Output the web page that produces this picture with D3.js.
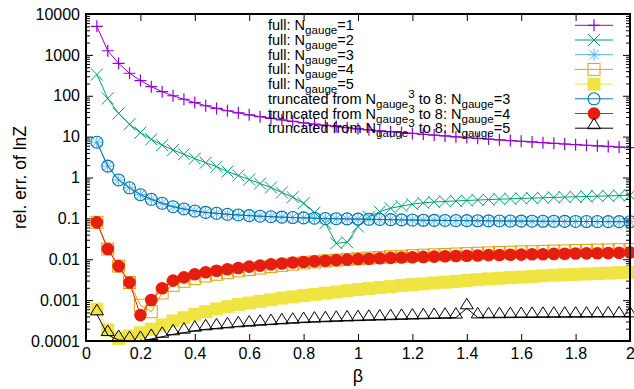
<!DOCTYPE html>
<html><head><meta charset="utf-8">
<script src="https://cdn.jsdelivr.net/npm/d3@7"></script>
<style>body{margin:0;background:#fff}svg{display:block}text{font-family:"Liberation Sans",Arial,sans-serif}</style>
</head><body><svg id="c" width="634" height="389"></svg>
<script>
const beta = [0.04,0.08,0.12,0.16,0.20,0.24,0.28,0.32,0.36,0.40,0.44,0.48,0.52,0.56,0.60,0.64,0.68,0.72,0.76,0.80,0.84,0.88,0.92,0.96,1.00,1.04,1.08,1.12,1.16,1.20,1.24,1.28,1.32,1.36,1.40,1.44,1.48,1.52,1.56,1.60,1.64,1.68,1.72,1.76,1.80,1.84,1.88,1.92,1.96,2.00];
const full1 = [5000,1260,620,355,235,167,126,100,82,68,57,49,43,38.2,34.2,30.8,28.0,25.6,23.6,21.8,20.2,18.8,17.6,16.5,15.5,14.7,13.9,13.2,12.6,12.0,11.4,10.9,10.4,9.9,9.5,9.1,8.7,8.35,8.0,7.7,7.4,7.1,6.85,6.6,6.35,6.15,5.95,5.75,5.55,5.4];
const full2 = [330,86,37,20,12.5,8.6,6.2,4.7,3.7,2.9,2.3,1.84,1.40,1.12,0.89,0.71,0.57,0.43,0.33,0.235,0.138,0.076,0.0245,0.026,0.063,0.11,0.146,0.177,0.20,0.222,0.24,0.252,0.26,0.267,0.274,0.281,0.288,0.295,0.301,0.307,0.313,0.319,0.325,0.331,0.337,0.343,0.349,0.355,0.361,0.367];
const full3 = [7.3,1.9,0.87,0.56,0.38,0.293,0.234,0.193,0.17,0.151,0.14,0.133,0.126,0.121,0.117,0.113,0.11,0.107,0.105,0.103,0.101,0.099,0.098,0.097,0.096,0.095,0.094,0.093,0.092,0.091,0.090,0.0895,0.089,0.0885,0.088,0.0875,0.087,0.0865,0.086,0.0857,0.0853,0.085,0.0847,0.0844,0.0841,0.0838,0.0836,0.0834,0.0832,0.083];
const full4 = [0.080,0.0178,0.0068,0.0027,0.00075,0.00052,0.0015,0.0023,0.0029,0.0034,0.0039,0.0043,0.0047,0.0052,0.0056,0.0061,0.0066,0.0071,0.0076,0.0081,0.0086,0.0091,0.0095,0.0099,0.0103,0.0107,0.0111,0.0115,0.0118,0.0122,0.0125,0.0128,0.0131,0.0134,0.0137,0.014,0.0143,0.0146,0.0148,0.0151,0.0153,0.0156,0.0158,0.016,0.0163,0.0165,0.0167,0.0169,0.0171,0.0173];
const full5 = [0.0006,0.000186,0.000116,0.000133,0.00016,0.000193,0.000246,0.00031,0.00037,0.00045,0.00052,0.00061,0.00069,0.000776,0.000851,0.000933,0.00102,0.00112,0.0012,0.00129,0.00138,0.00148,0.00158,0.0017,0.00182,0.00191,0.00204,0.00214,0.00229,0.0024,0.00251,0.00263,0.00275,0.00288,0.00302,0.00316,0.00331,0.00343,0.00355,0.00367,0.0038,0.00394,0.00407,0.00417,0.00427,0.00437,0.00447,0.00457,0.00468,0.00479];
const trunc3 = [7.3,1.9,0.87,0.56,0.38,0.293,0.234,0.193,0.17,0.151,0.14,0.133,0.126,0.121,0.117,0.113,0.11,0.107,0.105,0.103,0.101,0.099,0.098,0.097,0.096,0.095,0.094,0.093,0.092,0.091,0.090,0.0895,0.089,0.0885,0.088,0.0875,0.087,0.0865,0.086,0.0857,0.0853,0.085,0.0847,0.0844,0.0841,0.0838,0.0836,0.0834,0.0832,0.083];
const trunc4 = [0.080,0.0178,0.0068,0.0027,0.00043,0.00101,0.00195,0.0030,0.0036,0.0043,0.0048,0.00525,0.0057,0.0061,0.0066,0.0070,0.0075,0.0079,0.0083,0.0086,0.0089,0.0092,0.0095,0.0098,0.0101,0.0103,0.0106,0.0108,0.011,0.0112,0.0114,0.0116,0.0118,0.012,0.0122,0.0124,0.0126,0.0127,0.0129,0.013,0.0132,0.0133,0.0135,0.0136,0.0138,0.0139,0.014,0.0142,0.0143,0.0145];
const trunc5 = [0.00045,0.00014,0.000106,0.0001,0.0001,0.000112,0.000127,0.000146,0.00016,0.000179,0.000193,0.000204,0.000216,0.000229,0.000238,0.00025,0.000259,0.00027,0.00028,0.00029,0.000298,0.000305,0.000312,0.000318,0.000324,0.00033,0.000336,0.000342,0.000348,0.000354,0.00036,0.000365,0.00037,0.000374,0.00063,0.000378,0.00038,0.000382,0.000384,0.000386,0.000388,0.00039,0.000392,0.000393,0.000394,0.000395,0.000396,0.000397,0.000398,0.0004];

const seriesLabels = ["full: N_{gauge}=1","full: N_{gauge}=2","full: N_{gauge}=3","full: N_{gauge}=4","full: N_{gauge}=5",
  "truncated from N_{gauge}^3 to 8: N_{gauge}=3","truncated from N_{gauge}^3 to 8: N_{gauge}=4","truncated from N_{gauge}^3 to 8: N_{gauge}=5"];
const seriesColors = ["#9400d3","#009e73","#56b4e9","#e69f00","#f0e442","#0072b2","#e51e10","#000000"];
const seriesMarkers = ["plus","cross","star","square","fsquare","circle","fcircle","triangle"];
const seriesData = [full1,full2,full3,full4,full5,trunc3,trunc4,trunc5];

const xTicks = [0,0.2,0.4,0.6,0.8,1,1.2,1.4,1.6,1.8,2];
const xTickLabels = ["0","0.2","0.4","0.6","0.8","1","1.2","1.4","1.6","1.8","2"];
const yTicks = [1e-4,1e-3,1e-2,1e-1,1,10,100,1000,10000];
const yTickLabels = ["0.0001","0.001","0.01","0.1","1","10","100","1000","10000"];
const xLabel = "β";
const yLabel = "rel. err. of lnZ";

const svg = d3.select("#c");
svg.append("rect").attr("width",634).attr("height",389).attr("fill","#fff");
const L=86,R=630,T=14,B=341;
const x = d3.scaleLinear().domain([0,2]).range([L,R]);
const y = d3.scaleLog().domain([1e-4,1e4]).range([B,T]);

const yMinor = [];
yTicks.slice(0,-1).forEach(d=>{for(let k=2;k<=9;k++) yMinor.push(d*k);});

function styleAxis(g){
  g.select(".domain").remove();
  g.selectAll("line").attr("stroke","#000").attr("stroke-width",1);
  g.selectAll("text").attr("font-family","'Liberation Sans',Arial,sans-serif").attr("font-size",16).attr("fill","#000");
}
svg.append("g").attr("transform",`translate(${L},0)`)
  .call(d3.axisLeft(y).tickValues(yTicks).tickFormat((d,i)=>yTickLabels[i]).tickSizeInner(-7).tickSizeOuter(0).tickPadding(6)).call(styleAxis);
svg.append("g").attr("transform",`translate(${L},0)`)
  .call(d3.axisLeft(y).tickValues(yMinor).tickFormat("").tickSizeInner(-4).tickSizeOuter(0)).call(styleAxis);
svg.append("g").attr("transform",`translate(${R},0)`)
  .call(d3.axisRight(y).tickValues(yTicks).tickFormat("").tickSizeInner(-7).tickSizeOuter(0)).call(styleAxis);
svg.append("g").attr("transform",`translate(${R},0)`)
  .call(d3.axisRight(y).tickValues(yMinor).tickFormat("").tickSizeInner(-4).tickSizeOuter(0)).call(styleAxis);
svg.append("g").attr("transform",`translate(0,${B})`)
  .call(d3.axisBottom(x).tickValues(xTicks).tickFormat((d,i)=>xTickLabels[i]).tickSizeInner(-7).tickSizeOuter(0).tickPadding(7)).call(styleAxis);
svg.append("g").attr("transform",`translate(0,${T})`)
  .call(d3.axisTop(x).tickValues(xTicks).tickFormat("").tickSizeInner(-7).tickSizeOuter(0)).call(styleAxis);

function marker(g, type, color, cx, cy){
  const s=6;
  const t=`translate(${cx},${cy})`;
  if(type==="plus") g.append("path").attr("transform",t).attr("d",`M${-s},0H${s}M0,${-s}V${s}`).attr("stroke",color).attr("stroke-width",1.2).attr("fill","none");
  else if(type==="cross") g.append("path").attr("transform",t).attr("d",`M${-s},${-s}L${s},${s}M${-s},${s}L${s},${-s}`).attr("stroke",color).attr("stroke-width",1).attr("fill","none");
  else if(type==="star") g.append("path").attr("transform",t).attr("d",`M${-s},0H${s}M0,${-s}V${s}M${-s*0.8},${-s*0.8}L${s*0.8},${s*0.8}M${-s*0.8},${s*0.8}L${s*0.8},${-s*0.8}`).attr("stroke",color).attr("stroke-width",1).attr("fill","none");
  else if(type==="square") g.append("rect").attr("x",cx-s).attr("y",cy-s).attr("width",2*s).attr("height",2*s).attr("stroke",color).attr("stroke-width",1).attr("fill","none");
  else if(type==="fsquare") g.append("rect").attr("x",cx-6.5).attr("y",cy-6.5).attr("width",13).attr("height",13).attr("fill",color);
  else if(type==="circle") g.append("circle").attr("cx",cx).attr("cy",cy).attr("r",s).attr("stroke",color).attr("stroke-width",1.1).attr("fill","none");
  else if(type==="fcircle") g.append("circle").attr("cx",cx).attr("cy",cy).attr("r",6.3).attr("fill",color);
  else if(type==="triangle") g.append("path").attr("transform",t).attr("d","M0,-10L6.5,0.5L-6.5,0.5Z").attr("stroke",color).attr("stroke-width",1).attr("fill","none");
}

const plot = svg.append("g");
const line = d3.line().x(d=>x(d[0])).y(d=>y(d[1]));
seriesData.forEach((vals,si)=>{
  const g = plot.append("g");
  const pts = beta.map((b,i)=>[b,vals[i]]);
  g.append("path").attr("d",line(pts)).attr("fill","none").attr("stroke",seriesColors[si]).attr("stroke-width",1);
  pts.forEach(p=>marker(g,seriesMarkers[si],seriesColors[si],x(p[0]),y(p[1])));
});

// frame
svg.append("rect").attr("x",L).attr("y",T).attr("width",R-L).attr("height",B-T).attr("fill","none").attr("stroke","#000").attr("stroke-width",2);

// legend
function parseEnh(str){
  const segs=[]; let i=0, buf="";
  while(i<str.length){
    const c=str[i];
    if((c==="_"||c==="^")){
      if(buf){segs.push({t:buf,m:0});buf="";}
      const mode = c==="_"?1:-1; i++;
      let txt="";
      if(str[i]==="{"){ i++; while(str[i]!=="}"){txt+=str[i];i++;} i++; }
      else { txt=str[i]; i++; }
      segs.push({t:txt,m:mode});
    } else { buf+=c; i++; }
  }
  if(buf) segs.push({t:buf,m:0});
  return segs;
}
const lg = svg.append("g");
seriesLabels.forEach((lab,i)=>{
  const yy = 25.3 + 14.7*i;
  lg.append("line").attr("x1",575).attr("x2",613).attr("y1",yy).attr("y2",yy).attr("stroke",seriesColors[i]).attr("stroke-width",1);
  marker(lg, seriesMarkers[i], seriesColors[i], 594, yy);
  const tx = lg.append("text").attr("x",268).attr("y",yy+5).attr("font-size",14.5).attr("fill","#000");
  let cur=0;
  parseEnh(lab).forEach(s=>{
    const target = s.m===1?4:(s.m===-1?-6:0);
    tx.append("tspan").attr("dy",target-cur).attr("font-size",s.m===0?14.5:11.6).text(s.t);
    cur=target;
  });
});

svg.append("text").attr("x",(L+R)/2).attr("y",382).attr("text-anchor","middle").attr("font-size",18).text(xLabel);
svg.append("text").attr("transform",`translate(25.5,${(T+B)/2}) rotate(-90)`).attr("text-anchor","middle").attr("font-size",17.5).text(yLabel);
</script></body></html>
